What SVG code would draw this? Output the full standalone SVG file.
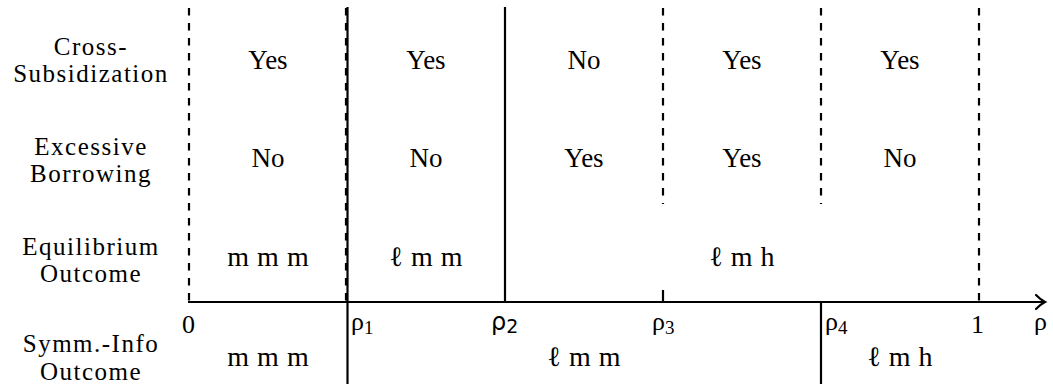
<svg xmlns="http://www.w3.org/2000/svg" width="1053" height="387" viewBox="0 0 1053 387">
<style>
text{font-family:"Liberation Serif","DejaVu Serif",serif;fill:#000;text-anchor:middle}
.lab{font-size:25px;letter-spacing:1.5px}
.val{font-size:27px}
.m{font-size:28px;word-spacing:1px}
.ax{font-size:26px;text-anchor:start}
.sub{font-size:19px}
.solid{stroke:#000;stroke-width:2.2;fill:none}
.dash{stroke:#000;stroke-width:2.2;fill:none;stroke-dasharray:7.5 7.5}
</style>
<rect width="1053" height="387" fill="#fff"/>
<g id="connectors">
<line class="dash" x1="189" y1="8" x2="189" y2="302"/>
<line class="dash" x1="346" y1="8" x2="346" y2="302"/>
<line class="solid" x1="347.5" y1="7" x2="347.5" y2="384"/>
<line class="solid" x1="505" y1="7" x2="505" y2="302"/>
<line class="dash" x1="663" y1="8" x2="663" y2="204"/>
<line class="solid" x1="663" y1="290" x2="663" y2="302"/>
<line class="dash" x1="821" y1="8" x2="821" y2="204"/>
<line class="solid" x1="821" y1="302" x2="821" y2="384"/>
<line class="dash" x1="979" y1="8" x2="979" y2="302"/>
<line class="solid" x1="188" y1="302" x2="1044" y2="302"/>
<path class="solid" d="M1036,295 Q1041,300 1045,302 Q1041,304 1036,309" stroke-linecap="round"/>
</g>
<g id="row-labels">
<text class="lab" x="91" y="55">Cross-</text>
<text class="lab" x="91" y="82">Subsidization</text>
<text class="lab" x="91" y="155">Excessive</text>
<text class="lab" x="91" y="182">Borrowing</text>
<text class="lab" x="91" y="255">Equilibrium</text>
<text class="lab" x="91" y="282">Outcome</text>
<text class="lab" x="91" y="352">Symm.-Info</text>
<text class="lab" x="91" y="380">Outcome</text>
</g>
<g id="cross-subsidization">
<text class="val" x="268" y="69">Yes</text>
<text class="val" x="426" y="69">Yes</text>
<text class="val" x="584" y="69">No</text>
<text class="val" x="742" y="69">Yes</text>
<text class="val" x="900" y="69">Yes</text>
</g>
<g id="excessive-borrowing">
<text class="val" x="268" y="167">No</text>
<text class="val" x="426" y="167">No</text>
<text class="val" x="584" y="167">Yes</text>
<text class="val" x="742" y="167">Yes</text>
<text class="val" x="900" y="167">No</text>
</g>
<g id="equilibrium-outcome">
<text class="m" x="268" y="266">m m m</text>
<text class="m" x="426" y="266">ℓ m m</text>
<text class="m" x="742" y="266">ℓ m h</text>
</g>
<g id="symm-info-outcome">
<text class="m" x="268" y="366">m m m</text>
<text class="m" x="584" y="366">ℓ m m</text>
<text class="m" x="900" y="366">ℓ m h</text>
</g>
<g id="axis-labels">
<text class="ax" x="182" y="333">0</text>
<text class="ax" x="351" y="330">ρ<tspan class="sub" dy="4">1</tspan></text>
<text class="ax" x="491" y="330" style="font-family:'DejaVu Sans',sans-serif;font-size:24px">ρ<tspan class="sub" dy="3" style="font-family:'DejaVu Sans',sans-serif">2</tspan></text>
<text class="ax" x="652" y="330">ρ<tspan class="sub" dy="4">3</tspan></text>
<text class="ax" x="825" y="330">ρ<tspan class="sub" dy="4">4</tspan></text>
<text class="ax" x="971" y="333">1</text>
<text class="ax" x="1034" y="330">ρ</text>
</g>
</svg>
